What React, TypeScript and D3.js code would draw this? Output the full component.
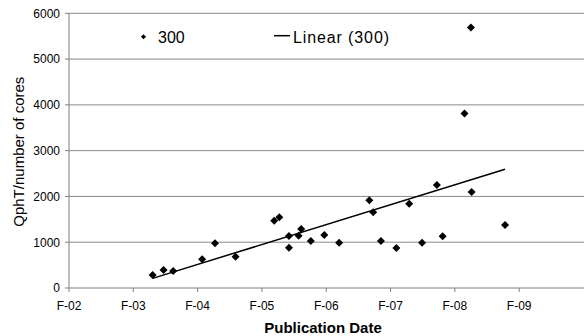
import React from "react";
import * as d3 from "d3";

// publication date as decimal year, value = QphT / number of cores
const pubDates = [
  2003.3, 2003.47, 2003.62, 2004.07, 2004.27, 2004.59, 2005.19, 2005.27, 2005.42,
  2005.42, 2005.57, 2005.61, 2005.76, 2005.97, 2006.2, 2006.67, 2006.73, 2006.85,
  2007.09, 2007.29, 2007.49, 2007.72, 2007.81, 2008.26, 2008.78, 2008.25, 2008.15,
];
const qphtPerCore = [
  284, 393, 371, 627, 976, 684, 1470, 1544, 1135, 880, 1142, 1288, 1026, 1157,
  990, 1915, 1653, 1026, 873, 1841, 990, 2249, 1129, 2096, 1376, 5692, 3814,
];
const xTickYears = [2002, 2003, 2004, 2005, 2006, 2007, 2008, 2009];
const xTickLabels = ["F-02", "F-03", "F-04", "F-05", "F-06", "F-07", "F-08", "F-09"];
const yTicks = [0, 1000, 2000, 3000, 4000, 5000, 6000];

const W = 584;
const H = 336;
const FONT = "Liberation Sans, Arial, sans-serif";

export default function App() {
  const x = d3.scaleLinear().domain([2002, 2010]).range([69, 583.5]);
  const y = d3.scaleLinear().domain([0, 6000]).range([288, 13.3]);

  const points = pubDates.map((d, i) => ({ date: d, value: qphtPerCore[i] }));

  // least squares trendline, like excel's "Linear (300)"
  const mx = d3.mean(points, (p) => p.date)!;
  const my = d3.mean(points, (p) => p.value)!;
  const slope =
    d3.sum(points, (p) => (p.date - mx) * (p.value - my)) /
    d3.sum(points, (p) => (p.date - mx) ** 2);
  const [x0, x1] = d3.extent(pubDates) as [number, number];
  const fit = (t: number) => my + slope * (t - mx);
  const trend = d3
    .line<number>()
    .x((t) => x(t))
    .y((t) => y(fit(t)))([x0, x1]);

  const diamond = d3.symbol().type(d3.symbolSquare).size(32)()!;
  const smallDiamond = d3.symbol().type(d3.symbolSquare).size(13)()!;

  return (
    <div style={{ position: "absolute", left: 0, top: 0 }}>
      <svg width={W} height={H} style={{ display: "block", background: "#fff" }} fontFamily={FONT}>
        {/* gridlines */}
        {yTicks.slice(1).map((t) => (
          <line key={t} x1={x(2002)} x2={W} y1={y(t)} y2={y(t)} stroke="#8a8a8a" strokeWidth={1} />
        ))}

        {/* axes */}
        <line x1={x(2002)} x2={x(2002)} y1={y(6000)} y2={y(0)} stroke="#808080" />
        <line x1={x(2002)} x2={W} y1={y(0)} y2={y(0)} stroke="#808080" />
        {yTicks.map((t) => (
          <g key={t}>
            <line x1={x(2002) - 4} x2={x(2002)} y1={y(t)} y2={y(t)} stroke="#808080" />
            <text x={60} y={y(t) + 4.3} textAnchor="end" fontSize={12} fill="#000">
              {t}
            </text>
          </g>
        ))}
        {xTickYears.map((t, i) => (
          <g key={t}>
            <line x1={x(t)} x2={x(t)} y1={y(0)} y2={y(0) + 4} stroke="#808080" />
            <text x={x(t)} y={309.5} textAnchor="middle" fontSize={12} fill="#000">
              {xTickLabels[i]}
            </text>
          </g>
        ))}

        {/* points */}
        {points.map((p, i) => (
          <path
            key={i}
            d={diamond}
            transform={`translate(${x(p.date)},${y(p.value)}) rotate(45)`}
            fill="#000"
          />
        ))}

        {/* trendline */}
        <path d={trend ?? ""} fill="none" stroke="#000" strokeWidth={1.5} />

        {/* legend */}
        <path d={smallDiamond} transform="translate(143.5,36.7) rotate(45)" fill="#000" />
        <text x={158} y={43.3} fontSize={16} fill="#000">
          300
        </text>
        <line x1={274} x2={290} y1={35.7} y2={35.7} stroke="#000" strokeWidth={1.5} />
        <text x={293} y={43.3} fontSize={16} fill="#000" textLength={96} lengthAdjust="spacing">
          Linear (300)
        </text>

        {/* axis titles */}
        <text
          transform="translate(23.5,151.7) rotate(-90)"
          textAnchor="middle"
          fontSize={15}
          fill="#000"
        >
          QphT/number of cores
        </text>
        <text x={323} y={333.3} textAnchor="middle" fontSize={15} fontWeight="bold" fill="#000">
          Publication Date
        </text>
      </svg>
    </div>
  );
}
